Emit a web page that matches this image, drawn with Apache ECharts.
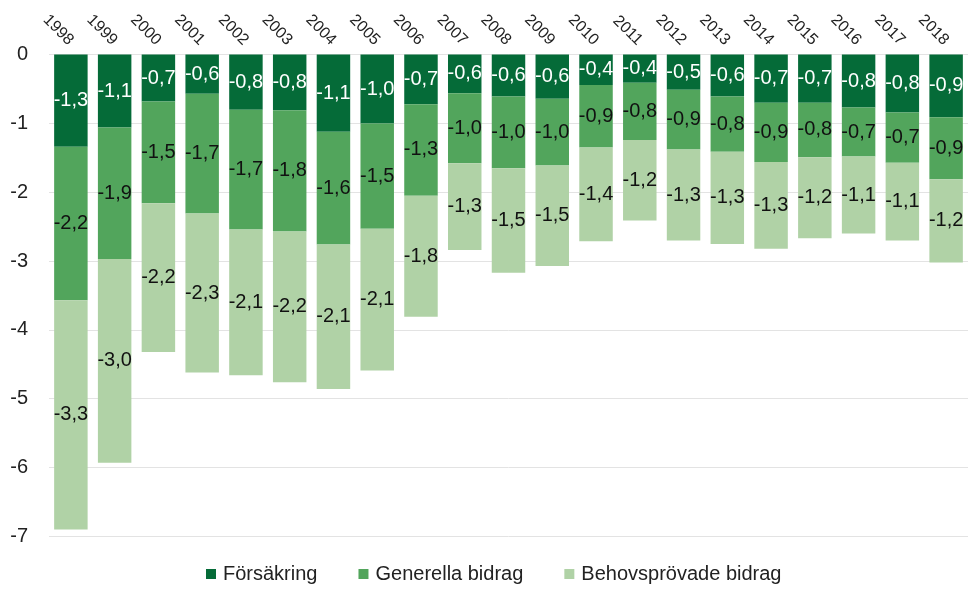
<!DOCTYPE html>
<html>
<head>
<meta charset="utf-8">
<script src="https://cdn.jsdelivr.net/npm/echarts@6/dist/echarts.min.js"></script>
<style>
html,body{margin:0;padding:0;background:#fff;}
#chart{width:968px;height:590px;}
</style>
</head>
<body>
<div id="chart"></div>
<script>
const years = ['1998','1999','2000','2001','2002','2003','2004','2005','2006','2007','2008','2009','2010','2011','2012','2013','2014','2015','2016','2017','2018'];
const forsakring = [-1.34,-1.06,-0.68,-0.57,-0.80,-0.81,-1.12,-1.00,-0.72,-0.56,-0.61,-0.64,-0.44,-0.41,-0.51,-0.61,-0.70,-0.70,-0.77,-0.84,-0.91];
const generella = [-2.23,-1.91,-1.48,-1.74,-1.74,-1.76,-1.64,-1.53,-1.33,-1.02,-1.04,-0.97,-0.91,-0.83,-0.87,-0.80,-0.86,-0.79,-0.71,-0.73,-0.90];
const behovsprovade = [-3.33,-2.96,-2.16,-2.31,-2.12,-2.19,-2.10,-2.06,-1.76,-1.26,-1.52,-1.46,-1.36,-1.17,-1.32,-1.34,-1.26,-1.18,-1.12,-1.13,-1.21];
const yTicks = [0,-1,-2,-3,-4,-5,-6,-7];

const FONT = 'Liberation Sans, Arial, sans-serif';
const fmt = p => p.value.toFixed(1).replace('.', ',');

function series(name, data, color, labelColor) {
  return {
    name: name,
    type: 'bar',
    stack: 'total',
    data: data,
    barWidth: '76.5%',
    itemStyle: { color: color },
    label: {
      show: true,
      position: 'inside',
      formatter: fmt,
      color: labelColor,
      fontSize: 20,
      fontFamily: FONT
    },
    emphasis: { disabled: true }
  };
}

const chart = echarts.init(document.getElementById('chart'), null, { renderer: 'canvas' });
chart.setOption({
  animation: false,
  backgroundColor: '#ffffff',
  grid: { left: 49, right: -7, top: 54.6, bottom: 53.6, containLabel: false },
  legend: {
    top: 564,
    left: 206,
    padding: 0,
    itemWidth: 10,
    itemHeight: 10,
    itemGap: 41,
    icon: 'rect',
    textStyle: { fontSize: 20, color: '#222', fontFamily: FONT, padding: [0, 0, 0, 2] },
    data: ['Försäkring', 'Generella bidrag', 'Behovsprövade bidrag']
  },
  xAxis: {
    type: 'category',
    position: 'top',
    data: years,
    axisLine: { show: false },
    axisTick: { show: false },
    axisLabel: {
      rotate: -45,
      interval: 0,
      fontSize: 16,
      color: '#222',
      fontFamily: FONT,
      margin: 12
    }
  },
  yAxis: {
    type: 'value',
    min: -7,
    max: 0,
    interval: 1,
    axisLine: { show: false },
    axisTick: { show: false },
    splitLine: { lineStyle: { color: '#e3e3e3', width: 1 } },
    axisLabel: {
      fontSize: 20,
      color: '#222',
      fontFamily: FONT,
      margin: 21,
      formatter: v => yTicks.indexOf(v) >= 0 ? String(v) : ''
    }
  },
  series: [
    series('Försäkring', forsakring, '#056b38', '#ffffff'),
    series('Generella bidrag', generella, '#52a55c', '#111111'),
    series('Behovsprövade bidrag', behovsprovade, '#b0d2a6', '#111111')
  ]
});
</script>
</body>
</html>
